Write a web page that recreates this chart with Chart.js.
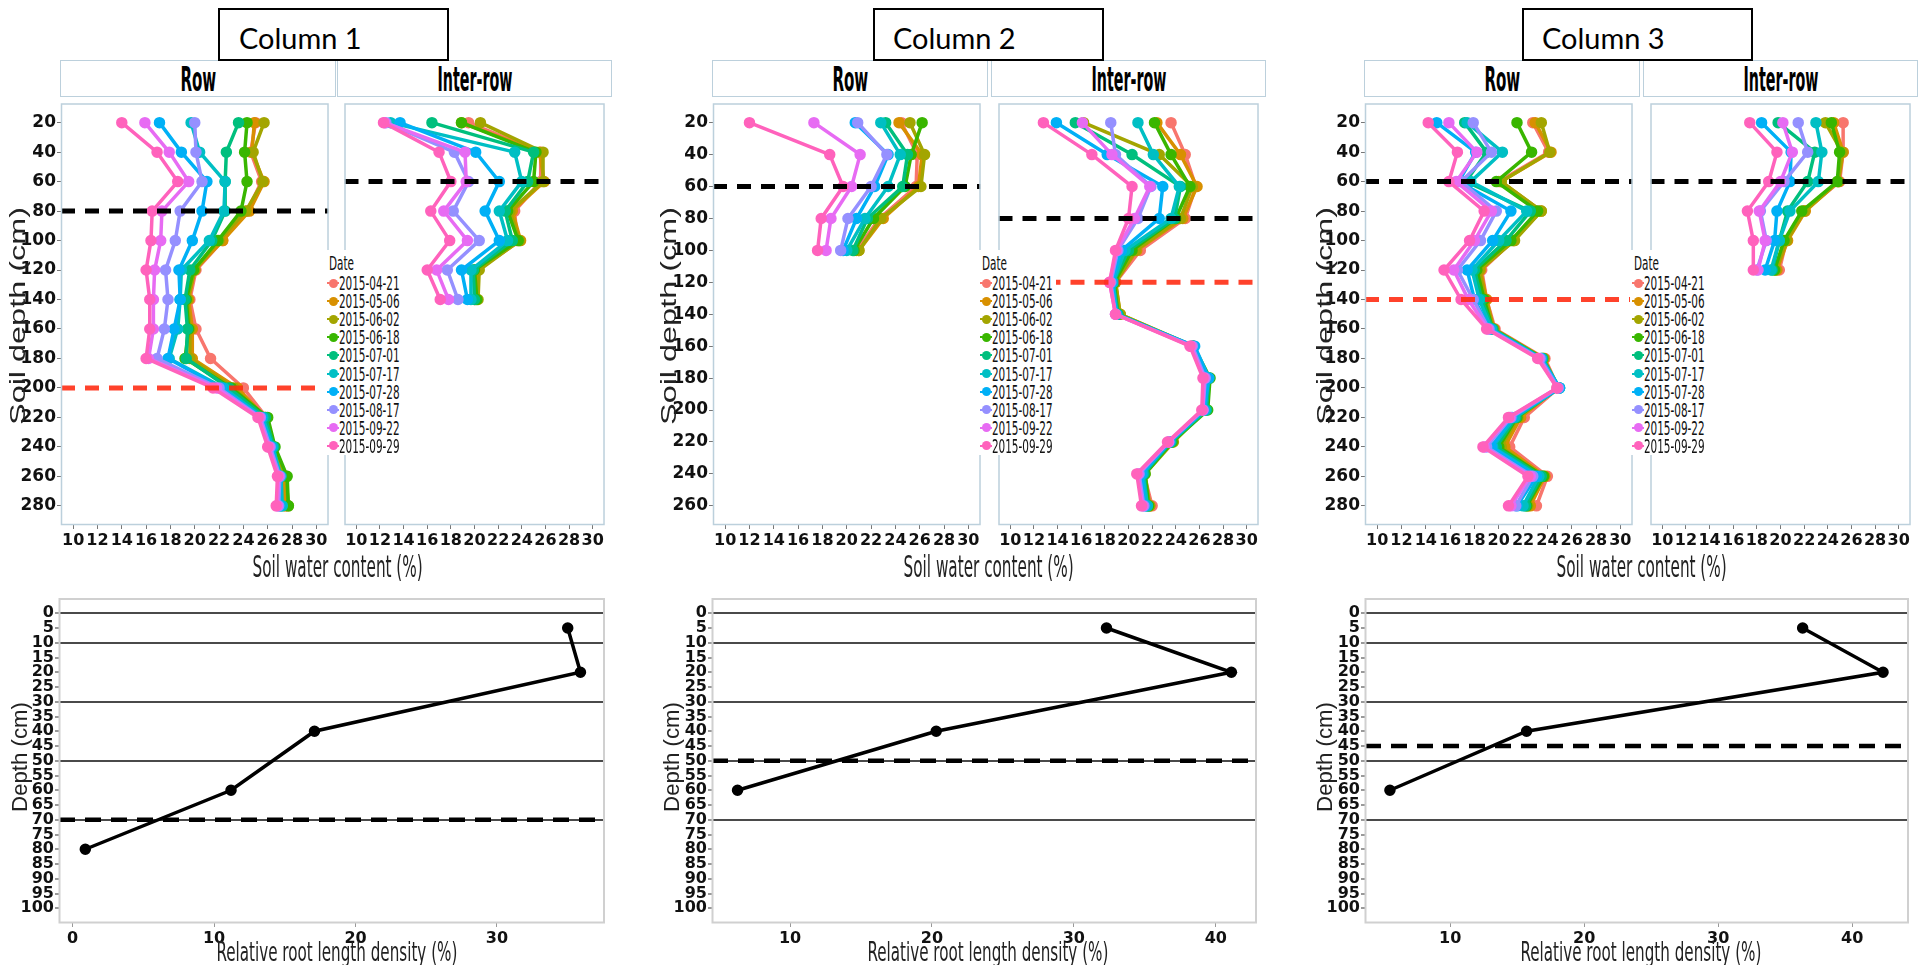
<!DOCTYPE html>
<html lang="en">
<head>
<meta charset="UTF-8">
<title>Soil water content and root length density</title>
<script src="https://cdn.jsdelivr.net/npm/chart.js"></script>
<style>
  body { margin: 0; width: 1922px; height: 965px; position: relative; overflow: hidden; background: #fff; }
  canvas { position: absolute; }
  .box { position: absolute; box-sizing: border-box; }
</style>
</head>
<body>
<script>
// ---- data ----
const dates = ['2015-04-21', '2015-05-06', '2015-06-02', '2015-06-18', '2015-07-01',
               '2015-07-17', '2015-07-28', '2015-08-17', '2015-09-22', '2015-09-29'];

const swcTicks = [10, 12, 14, 16, 18, 20, 22, 24, 26, 28, 30];
const depthTicks280 = [20, 40, 60, 80, 100, 120, 140, 160, 180, 200, 220, 240, 260, 280];
const depthTicks260 = [20, 40, 60, 80, 100, 120, 140, 160, 180, 200, 220, 240, 260];

// column 1
const c1RowDepths = [20, 40, 60, 80, 100, 120, 140, 160, 180, 200, 220, 240, 260, 280];
const c1Row = [
  [25.0, 24.6, 25.5, 24.3, 22.3, 20.1, 19.6, 20.1, 21.3, 24.0, 25.9, 26.3, 27.3, 27.5],
  [24.9, 24.7, 25.7, 24.5, 22.3, 20.0, 19.5, 19.8, 19.8, 23.5, 25.8, 26.4, 27.4, 27.4],
  [25.7, 24.8, 25.6, 24.2, 22.0, 20.0, 19.4, 19.6, 19.6, 23.2, 25.7, 26.5, 27.5, 27.7],
  [24.3, 24.1, 24.3, 23.8, 21.9, 19.9, 19.3, 19.5, 19.2, 23.0, 26.0, 26.6, 27.6, 27.7],
  [23.6, 22.6, 22.5, 22.5, 21.4, 19.6, 19.2, 19.4, 19.3, 22.8, 25.8, 26.5, 26.9, 27.1],
  [19.7, 20.4, 22.5, 22.4, 21.2, 18.9, 18.8, 18.6, 17.9, 22.4, 25.6, 26.4, 27.1, 27.2],
  [17.1, 18.9, 21.0, 20.6, 19.8, 18.7, 18.8, 18.3, 17.8, 22.2, 25.5, 26.3, 27.0, 27.0],
  [20.0, 20.1, 20.6, 18.8, 18.4, 17.6, 17.8, 17.5, 16.9, 22.0, 25.4, 26.2, 27.0, 26.9],
  [15.9, 17.9, 19.5, 17.3, 17.2, 16.7, 16.6, 16.6, 16.2, 21.8, 25.3, 26.1, 26.9, 26.8],
  [14.0, 16.9, 18.6, 16.5, 16.4, 16.0, 16.3, 16.3, 16.0, 21.5, 25.2, 26.0, 26.8, 26.7]
];
const c1InterDepths = [20, 40, 60, 80, 100, 120, 140];
const c1Inter = [
  [19.5, 25.6, 25.6, 23.4, 23.6, 20.1, 20.0],
  [18.9, 25.5, 25.9, 23.2, 23.9, 20.2, 20.1],
  [20.5, 25.8, 25.8, 23.0, 23.8, 20.4, 20.3],
  [18.9, 25.2, 25.0, 22.8, 23.7, 20.0, 20.2],
  [16.4, 25.0, 24.5, 22.6, 23.2, 19.9, 20.0],
  [12.9, 23.4, 24.0, 22.1, 22.8, 19.7, 19.7],
  [13.7, 20.1, 22.1, 20.9, 22.1, 18.9, 19.4],
  [12.5, 18.3, 19.5, 18.2, 20.4, 17.7, 18.6],
  [12.4, 19.2, 19.3, 17.4, 19.4, 16.8, 17.8],
  [12.3, 17.0, 18.0, 16.3, 17.9, 16.0, 17.1]
];

// column 2
const c2RowDepths = [20, 40, 60, 80, 100];
const c2Row = [
  [24.5, 25.8, 25.7, 22.7, 20.8],
  [24.3, 26.2, 25.9, 23.0, 21.0],
  [25.2, 26.4, 26.1, 22.8, 21.0],
  [26.2, 25.3, 24.8, 22.2, 20.6],
  [23.2, 25.0, 24.6, 21.7, 20.5],
  [22.8, 24.4, 23.4, 21.5, 20.0],
  [20.7, 23.4, 22.3, 20.8, 19.7],
  [20.9, 23.3, 22.0, 20.1, 19.5],
  [17.3, 21.1, 20.4, 18.7, 18.3],
  [12.0, 18.6, 19.7, 17.9, 17.6]
];
const c2InterDepths = [20, 40, 60, 80, 100, 120, 140, 160, 180, 200, 220, 240, 260];
const c2Inter = [
  [23.6, 24.8, 25.7, 24.8, 21.0, 18.9, 19.2, 25.3, 26.4, 26.3, 23.6, 21.3, 22.0],
  [22.4, 24.4, 25.8, 24.6, 20.7, 18.9, 19.3, 25.4, 26.5, 26.4, 23.7, 21.3, 21.8],
  [16.2, 22.6, 25.4, 24.4, 20.6, 18.9, 19.3, 25.5, 26.6, 26.5, 23.8, 21.4, 21.8],
  [22.2, 23.6, 25.2, 24.0, 20.3, 18.8, 19.1, 25.5, 26.9, 26.7, 23.7, 21.4, 21.7],
  [15.5, 20.3, 24.4, 23.9, 20.0, 18.7, 19.1, 25.4, 26.8, 26.6, 23.6, 21.3, 21.6],
  [20.8, 22.1, 24.3, 23.6, 19.7, 18.7, 19.0, 25.5, 26.7, 26.5, 23.5, 21.2, 21.6],
  [13.9, 18.2, 22.9, 22.6, 19.4, 18.6, 19.0, 25.6, 26.8, 26.4, 23.5, 21.1, 21.4],
  [18.5, 18.9, 21.9, 20.8, 19.1, 18.5, 18.9, 25.4, 26.5, 26.3, 23.4, 20.9, 21.3],
  [16.1, 18.6, 21.8, 20.5, 19.0, 18.4, 18.9, 25.3, 26.4, 26.3, 23.4, 20.8, 21.2],
  [12.8, 16.9, 20.3, 20.0, 18.9, 18.4, 18.9, 25.2, 26.3, 26.2, 23.3, 20.7, 21.1]
];

// column 3
const c3RowDepths = [20, 40, 60, 80, 100, 120, 140, 160, 180, 200, 220, 240, 260, 280];
const c3Row = [
  [22.8, 24.1, 20.0, 23.3, 21.2, 18.6, 19.0, 19.7, 23.8, 24.9, 22.1, 20.9, 24.0, 23.1],
  [23.0, 24.3, 20.2, 23.5, 21.2, 18.5, 19.0, 19.6, 23.7, 24.8, 21.8, 20.5, 23.8, 22.6],
  [23.5, 24.2, 20.2, 23.5, 21.3, 18.4, 18.9, 19.6, 23.7, 24.9, 21.6, 20.2, 23.6, 22.4],
  [21.5, 22.7, 19.8, 23.2, 21.0, 18.2, 18.8, 19.5, 23.6, 24.9, 21.5, 20.0, 23.7, 22.3],
  [17.2, 19.0, 17.3, 22.6, 20.6, 18.0, 18.6, 19.5, 23.6, 25.0, 21.4, 19.8, 23.5, 22.2],
  [17.4, 20.3, 17.7, 22.3, 20.0, 17.8, 18.4, 19.4, 23.5, 25.0, 21.3, 19.5, 23.3, 22.0],
  [14.9, 18.1, 16.7, 21.0, 19.5, 17.4, 18.0, 19.3, 23.5, 25.0, 21.1, 19.4, 23.1, 21.5],
  [17.9, 19.4, 16.9, 19.8, 18.5, 16.6, 17.9, 19.2, 23.4, 24.9, 21.0, 19.0, 22.8, 21.4],
  [15.9, 18.2, 16.5, 19.4, 18.0, 16.3, 17.5, 19.1, 23.3, 24.8, 20.9, 18.8, 22.6, 21.0],
  [14.2, 16.6, 15.9, 18.8, 17.6, 15.5, 16.9, 19.0, 23.2, 24.8, 20.8, 18.7, 22.4, 20.8]
];
const c3InterDepths = [20, 40, 60, 80, 100, 120];
const c3Inter = [
  [25.3, 25.3, 25.0, 22.0, 20.5, 19.9],
  [24.5, 25.3, 24.9, 22.1, 20.6, 19.7],
  [23.8, 25.2, 24.9, 22.0, 20.5, 19.6],
  [24.3, 25.0, 24.8, 21.8, 20.3, 19.5],
  [19.8, 22.9, 22.3, 20.6, 19.9, 19.3],
  [23.0, 23.5, 23.2, 20.8, 19.9, 19.2],
  [18.4, 20.9, 20.8, 19.7, 19.5, 18.7],
  [21.5, 22.3, 20.3, 18.3, 18.8, 18.0],
  [20.2, 21.0, 20.0, 18.2, 18.7, 18.1],
  [17.4, 19.7, 19.0, 17.2, 17.7, 17.7]
];

// reference depths (dashed lines)
const c1RowBlack = [80], c1RowRed = [200], c1InterBlack = [60], c1InterRed = [];
const c2RowBlack = [60], c2RowRed = [], c2InterBlack = [80], c2InterRed = [120];
const c3RowBlack = [60], c3RowRed = [140], c3InterBlack = [60], c3InterRed = [];

// root length density
const rootDepthTicks = [0, 5, 10, 15, 20, 25, 30, 35, 40, 45, 50, 55, 60, 65, 70, 75, 80, 85, 90, 95, 100];
const rootLayerLines = [0, 10, 30, 50, 70];
const root1Depths = [5, 20, 40, 60, 80];
const root1 = [35.0, 35.9, 17.1, 11.2, 0.9];
const root1Ticks = [0, 10, 20, 30];
const root1Dash = [70];
const root2Depths = [5, 20, 40, 60];
const root2 = [32.3, 41.1, 20.3, 6.3];
const root2Ticks = [10, 20, 30, 40];
const root2Dash = [50];
const root3Depths = [5, 20, 40, 60];
const root3 = [36.3, 42.3, 15.7, 5.5];
const root3Ticks = [10, 20, 30, 40];
const root3Dash = [45];

// ---- styles ----
const hue = ['#F8766D', '#D89000', '#A3A500', '#39B600', '#00BF7D',
             '#00BFC4', '#00B0F6', '#9590FF', '#E76BF3', '#FF62BC'];
const NARROW = "'Liberation Sans Narrow', 'Arial Narrow', 'DejaVu Sans Condensed', 'Liberation Sans', sans-serif";
const TICKFONT = "'Liberation Sans Narrow', 'DejaVu Sans', sans-serif";
const WIDE = "'Liberation Sans', Arial, sans-serif";
const RED = 'rgba(255, 45, 20, 0.9)';

Chart.defaults.font.family = TICKFONT;
Chart.defaults.color = '#111';
Chart.defaults.animation = false;

const tickFont = size => ({ size: size, weight: 'bold', style: 'condensed', family: TICKFONT });

const panelBox = {
  id: 'panelBox',
  afterDraw(chart, args, opts) {
    const a = chart.chartArea, ctx = chart.ctx;
    ctx.save();
    ctx.strokeStyle = opts.color;
    ctx.lineWidth = opts.width;
    ctx.strokeRect(a.left + 0.5, a.top + 0.5, a.width - 1, a.height - 1);
    ctx.restore();
  }
};

function makeCanvas(left, top, w, h) {
  const c = document.createElement('canvas');
  c.width = w; c.height = h;
  c.style.left = left + 'px'; c.style.top = top + 'px';
  c.style.width = w + 'px'; c.style.height = h + 'px';
  document.body.appendChild(c);
  return c;
}

function label(text, cx, cy, font, w, rot, color) {
  const el = document.createElement('div');
  el.textContent = text;
  el.style.cssText = 'position:absolute;white-space:nowrap;line-height:1;font:' + font + ';color:' + (color || '#111');
  document.body.appendChild(el);
  const nat = el.offsetWidth, h = el.offsetHeight;
  const k = w ? w / nat : 1;
  el.style.left = (cx - nat / 2) + 'px';
  el.style.top = (cy - h / 2) + 'px';
  el.style.transform = (rot ? 'rotate(-90deg) ' : '') + 'scaleX(' + k + ')';
  return el;
}

function rect(left, top, w, h, css) {
  const d = document.createElement('div');
  d.className = 'box';
  d.style.cssText += 'left:' + left + 'px;top:' + top + 'px;width:' + w + 'px;height:' + h + 'px;' + css;
  document.body.appendChild(d);
  return d;
}

const X_MIN = 9, X_MAX = 31;
const TOP = 96, PH = 429, PW = 275;

function refLine(d, color, xMin, xMax, width, dash) {
  return {
    data: [{ x: xMin, y: d }, { x: xMax, y: d }],
    borderColor: color, borderWidth: width, borderDash: dash,
    pointRadius: 0, order: 0
  };
}

function facet(left, withY, rows, depths, yTicks, yMin, yMax, blacks, reds) {
  const cLeft = withY ? left - 60 : left;
  const cw = withY ? PW + 60 : PW;
  const canvas = makeCanvas(cLeft, TOP, cw, PH + 30);
  const sets = rows.map((vals, i) => ({
    label: dates[i],
    data: depths.map((d, j) => ({ x: vals[j], y: d })),
    borderColor: hue[i], backgroundColor: hue[i],
    borderWidth: 3.5, pointRadius: 4, order: 20 - i
  }));
  blacks.forEach(d => sets.push(refLine(d, '#000', X_MIN, X_MAX, 5, [14, 10])));
  reds.forEach(d => sets.push(refLine(d, RED, X_MIN, X_MAX, 5, [14, 10])));
  return new Chart(canvas, {
    type: 'line',
    data: { datasets: sets },
    options: {
      responsive: false, events: [], indexAxis: 'y',
      layout: { padding: 0 },
      plugins: { legend: { display: false }, tooltip: { enabled: false },
                 panelBox: { color: '#bcd0dc', width: 1.5 } },
      scales: {
        x: {
          type: 'linear', min: X_MIN, max: X_MAX, position: 'bottom',
          afterBuildTicks: s => { s.ticks = swcTicks.map(v => ({ value: v })); },
          afterFit: s => { s.height = 30; s.paddingLeft = 0; s.paddingRight = 0; },
          ticks: { autoSkip: false, maxRotation: 0, padding: 2, font: tickFont(16) },
          grid: { drawOnChartArea: false, tickLength: 4, tickColor: '#777' },
          border: { display: false }
        },
        y: {
          type: 'linear', min: yMin, max: yMax, reverse: true, display: withY,
          afterBuildTicks: s => { s.ticks = yTicks.map(v => ({ value: v })); },
          afterFit: s => { if (withY) { s.width = 60; s.paddingTop = 0; s.paddingBottom = 0; } },
          ticks: { autoSkip: false, padding: 1, font: tickFont(17) },
          grid: { drawOnChartArea: false, tickLength: 4, tickColor: '#777' },
          border: { display: false }
        }
      }
    },
    plugins: [panelBox]
  });
}

function rootChart(left, w, depths, vals, xTicks, xMin, xMax, dash) {
  const canvas = makeCanvas(left - 60, 591, w + 60, 332 + 26);
  const sets = [{
    data: depths.map((d, j) => ({ x: vals[j], y: d })),
    borderColor: '#000', backgroundColor: '#000',
    borderWidth: 3.5, pointRadius: 4, order: 1
  }];
  dash.forEach(d => sets.push(refLine(d, '#000', xMin, xMax, 4.5, [16, 10])));
  return new Chart(canvas, {
    type: 'line',
    data: { datasets: sets },
    options: {
      responsive: false, events: [], indexAxis: 'y',
      layout: { padding: 0 },
      plugins: { legend: { display: false }, tooltip: { enabled: false },
                 panelBox: { color: '#d0d0d0', width: 2 } },
      scales: {
        x: {
          type: 'linear', min: xMin, max: xMax,
          afterBuildTicks: s => { s.ticks = xTicks.map(v => ({ value: v })); },
          afterFit: s => { s.height = 26; s.paddingLeft = 0; s.paddingRight = 0; },
          ticks: { autoSkip: false, maxRotation: 0, padding: 2, font: tickFont(16) },
          grid: { drawOnChartArea: false, tickLength: 4, tickColor: '#999' },
          border: { display: false }
        },
        y: {
          type: 'linear', min: -5, max: 105, reverse: true,
          afterBuildTicks: s => { s.ticks = rootDepthTicks.map(v => ({ value: v })); },
          afterFit: s => { s.width = 60; s.paddingTop = 0; s.paddingBottom = 0; },
          ticks: { autoSkip: false, padding: 1, font: tickFont(16) },
          grid: {
            color: ctx => rootLayerLines.includes(ctx.tick && ctx.tick.value) ? '#4a4a4a' : 'rgba(0,0,0,0)',
            lineWidth: 2, tickLength: 4, tickColor: '#999'
          },
          border: { display: false }
        }
      }
    },
    plugins: [panelBox]
  });
}

// ---- layout ----
const cols = [
  { rowL: 61, intL: 337, boxL: 218, textCx: 300, name: 'Column 1', yLab: 18, midX: 337, legX: 329,
    rows: [c1Row, c1RowDepths, depthTicks280, 7, 293, c1RowBlack, c1RowRed],
    ints: [c1Inter, c1InterDepths, depthTicks280, 7, 293, c1InterBlack, c1InterRed],
    rootL: 59, rootW: 553, root: [root1Depths, root1, root1Ticks, -0.96, 37.6, root1Dash], dLab: 20 },
  { rowL: 713, intL: 991, boxL: 873, textCx: 954, name: 'Column 2', yLab: 669, midX: 988, legX: 982,
    rows: [c2Row, c2RowDepths, depthTicks260, 8, 272, c2RowBlack, c2RowRed],
    ints: [c2Inter, c2InterDepths, depthTicks260, 8, 272, c2InterBlack, c2InterRed],
    rootL: 712, rootW: 552, root: [root2Depths, root2, root2Ticks, 4.5, 42.87, root2Dash], dLab: 672 },
  { rowL: 1365, intL: 1643, boxL: 1522, textCx: 1603, name: 'Column 3', yLab: 1325, midX: 1641, legX: 1634,
    rows: [c3Row, c3RowDepths, depthTicks280, 7, 293, c3RowBlack, c3RowRed],
    ints: [c3Inter, c3InterDepths, depthTicks280, 7, 293, c3InterBlack, c3InterRed],
    rootL: 1365, rootW: 551, root: [root3Depths, root3, root3Ticks, 3.64, 44.2, root3Dash], dLab: 1325 }
];

cols.forEach(c => {
  // strips
  rect(c.rowL - 1, 60, PW + 1, 37, 'border:1.5px solid #bcd0dc;background:#fff;');
  rect(c.intL, 60, PW, 37, 'border:1.5px solid #bcd0dc;background:#fff;');
  label('Row', c.rowL + PW / 2, 79, 'bold 33px ' + NARROW, 36, false, '#000');
  label('Inter-row', c.intL + PW / 2, 79, 'bold 33px ' + NARROW, 75, false, '#000');

  const r = c.rows, t = c.ints;
  facet(c.rowL, true, r[0], r[1], r[2], r[3], r[4], r[5], r[6]);
  facet(c.intL, false, t[0], t[1], t[2], t[3], t[4], t[5], t[6]);

  const q = c.root;
  rootChart(c.rootL, c.rootW, q[0], q[1], q[2], q[3], q[4], q[5]);

  // column title box
  rect(c.boxL, 8, 231, 53, 'border:2px solid #000;background:#fff;');
  label(c.name, c.textCx, 38, '28px Lato, "Open Sans", sans-serif', 123, false, '#000');

  // axis titles
  label('Soil depth (cm)', c.yLab, 316, '22px ' + WIDE, 218, true, '#222');
  label('Soil water content (%)', c.midX, 566, '31px ' + NARROW, 170, false, '#222');
  label('Depth (cm)', c.dLab, 757, '22px ' + WIDE, 110, true, '#222');
  label('Relative root length density (%)', c.midX, 951, '27px ' + NARROW, 241, false, '#222');

  // legend
  rect(c.legX - 4, 250, 78, 205, 'background:#fff;');
  label('Date', c.legX + 12, 263, '20px ' + NARROW, 25, false, '#111');
  dates.forEach((d, i) => {
    const cy = 283 + i * 18.1;
    rect(c.legX - 2, cy - 1, 12, 2, 'background:' + hue[i] + ';');
    rect(c.legX, cy - 4.5, 9, 9, 'border-radius:50%;background:' + hue[i] + ';');
    label(d, c.legX + 40.5, cy, '20px ' + NARROW, 61, false, '#111');
  });
});
</script>
</body>
</html>
